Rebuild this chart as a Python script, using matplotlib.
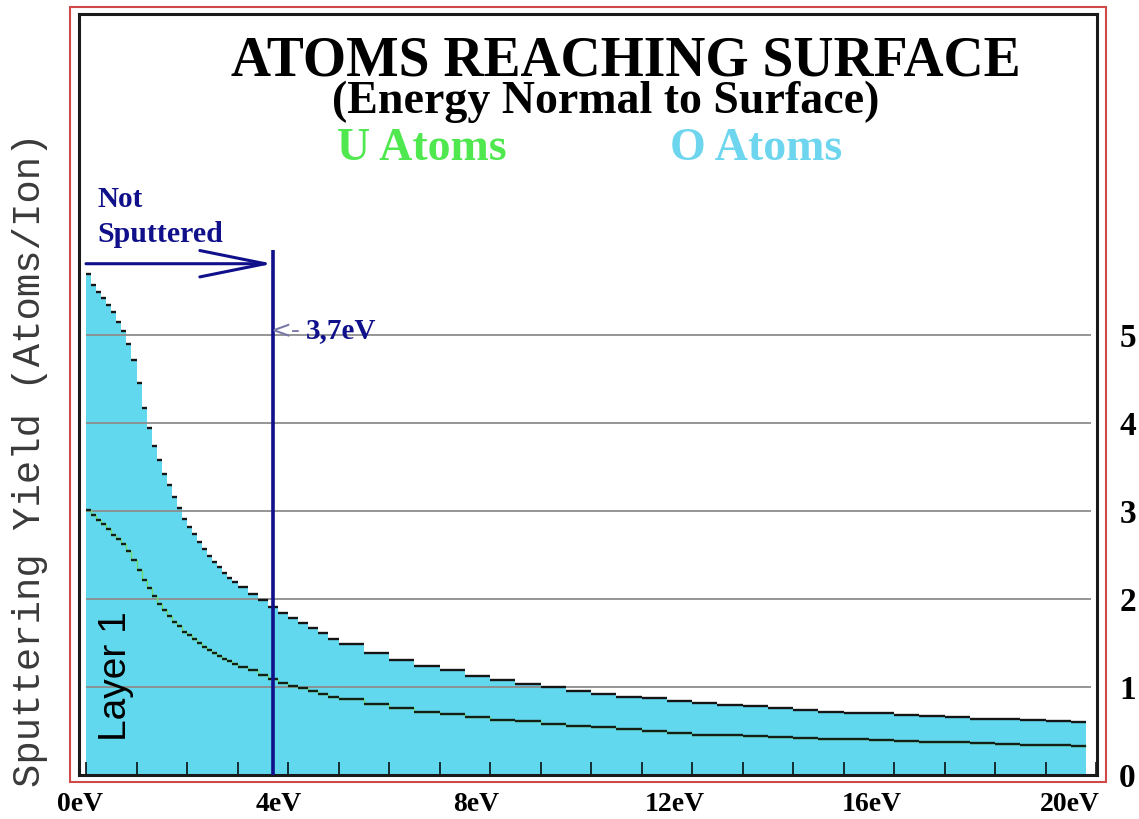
import numpy as np
import matplotlib.pyplot as plt
from matplotlib.patches import Rectangle

# histogram bins in eV (left edges), last bin closes at 19.8 eV
bin_left = np.round(np.concatenate([np.arange(0, 3.05, 0.1),
                                    np.arange(3.2, 4.85, 0.2),
                                    np.arange(5.0, 19.55, 0.5)]), 2)
bin_edges = np.append(bin_left, 19.8)

# total atoms (U + O) reaching surface, atoms/ion
total_yield = [5.69, 5.57, 5.49, 5.42, 5.34, 5.26, 5.15, 5.04, 4.90, 4.72,
               4.45, 4.17, 3.94, 3.74, 3.58, 3.42, 3.29, 3.16, 3.03, 2.91,
               2.82, 2.74, 2.65, 2.57, 2.49, 2.42, 2.36, 2.30, 2.24, 2.19,
               2.14,
               2.06, 1.99, 1.91, 1.84, 1.78, 1.73, 1.67, 1.61, 1.55,
               1.49, 1.39, 1.31, 1.24, 1.19, 1.13, 1.08, 1.03, 1.00, 0.96,
               0.92, 0.89, 0.87, 0.84, 0.82, 0.80, 0.78, 0.76, 0.74, 0.72,
               0.71, 0.70, 0.68, 0.67, 0.66, 0.64, 0.64, 0.63, 0.61, 0.60]

# U atoms only
u_yield = [3.01, 2.96, 2.90, 2.85, 2.79, 2.73, 2.68, 2.62, 2.54, 2.44,
           2.33, 2.22, 2.12, 2.03, 1.94, 1.88, 1.81, 1.74, 1.69, 1.63,
           1.59, 1.54, 1.50, 1.46, 1.42, 1.39, 1.35, 1.32, 1.29, 1.26,
           1.23,
           1.19, 1.14, 1.09, 1.05, 1.01, 0.99, 0.96, 0.92, 0.89,
           0.86, 0.81, 0.76, 0.72, 0.69, 0.66, 0.63, 0.61, 0.58, 0.56,
           0.54, 0.52, 0.50, 0.48, 0.46, 0.45, 0.44, 0.43, 0.42, 0.41,
           0.41, 0.40, 0.39, 0.38, 0.37, 0.36, 0.35, 0.34, 0.34, 0.33]

y_ticks = [0, 1, 2, 3, 4, 5]
x_label_ticks = [0, 4, 8, 12, 16, 20]
surface_binding = 3.7   # eV
arrow_level = 5.81
line_top = 5.97

W, H = 1139, 819
CYAN = '#62d8ef'
NAVY = '#10108a'
SERIF = 'Liberation Serif'


def fx(x):
    return x / W


def fy(y):
    return 1 - y / H


fig = plt.figure(figsize=(W / 100, H / 100), dpi=100)
fig.patch.set_facecolor('white')

# axes box = inner black frame
ax = fig.add_axes([fx(79), fy(775), (1097 - 79) / W, (775 - 14) / H])
ax.set_xlim(-(86 - 79) / 50.5, 20 + 1 / 50.5)
ax.set_ylim(0, (775 - 14) / 88.0)

ax.stairs(total_yield, bin_edges, fill=True, color=CYAN, zorder=1)
ax.hlines(y_ticks[1:], 0, 19.9, color='#8c8c8c', lw=1.3, zorder=2)
ax.stairs(u_yield, bin_edges, baseline=None, color='#6fdc6f', lw=1.0, zorder=3)
ax.hlines(total_yield, bin_edges[:-1], bin_edges[1:], color='#151515', lw=1.7, zorder=4)
ax.hlines(u_yield, bin_edges[:-1], bin_edges[1:], color='#152015', lw=1.7, zorder=4)

# threshold line + arrow
ax.vlines(surface_binding, 0, line_top, color=NAVY, lw=2.6, zorder=5)
ax.annotate('', xy=(surface_binding, arrow_level), xytext=(0, arrow_level),
            arrowprops=dict(arrowstyle='->,head_length=4.7,head_width=0.95',
                            color=NAVY, lw=2.2, mutation_scale=10,
                            shrinkA=0, shrinkB=0), zorder=5)

for s in ax.spines.values():
    s.set_linewidth(2.2)
    s.set_color('#1a1a1a')

ax.set_xticks(np.arange(0, 21, 1))
ax.tick_params(axis='x', direction='in', length=9.5, width=1.1, labelbottom=False)
ax.yaxis.tick_right()
ax.set_yticks(y_ticks)
ax.set_yticklabels([str(v) for v in y_ticks], fontsize=24, fontweight='bold', family=SERIF)
ax.tick_params(axis='y', length=0, pad=16)

# x labels are drawn slightly off the tick positions in the original
sec = ax.secondary_xaxis('bottom', functions=(lambda x: (x + 0.11) / 0.98,
                                               lambda s: 0.98 * s - 0.11))
sec.set_xticks(x_label_ticks)
sec.set_xticklabels([f'{v}eV' for v in x_label_ticks], fontsize=20,
                    fontweight='bold', family=SERIF)
sec.tick_params(length=0, pad=12)
sec.spines['bottom'].set_visible(False)

# outer red frame
fig.patches.append(Rectangle((fx(70), fy(782)), (1106 - 70) / W, (782 - 7) / H,
                             transform=fig.transFigure, fill=False,
                             edgecolor='#d04848', lw=1.5))

fig.text(fx(626), fy(75), 'ATOMS REACHING SURFACE', ha='center', va='baseline',
         fontsize=40, fontweight='bold', family=SERIF)
fig.text(fx(606), fy(113), '(Energy Normal to Surface)', ha='center', va='baseline',
         fontsize=33, fontweight='bold', family=SERIF)
fig.text(fx(422), fy(160), 'U Atoms', ha='center', va='baseline',
         fontsize=33, fontweight='bold', family=SERIF, color='#4fe84f')
fig.text(fx(756), fy(160), 'O Atoms', ha='center', va='baseline',
         fontsize=33, fontweight='bold', family=SERIF, color='#6dd6ee')

fig.text(fx(97), fy(207), 'Not', ha='left', va='baseline',
         fontsize=21, fontweight='bold', family=SERIF, color=NAVY)
fig.text(fx(97), fy(242), 'Sputtered', ha='left', va='baseline',
         fontsize=21.5, fontweight='bold', family=SERIF, color=NAVY)
fig.text(fx(270), fy(338), '<-', ha='left', va='baseline',
         fontsize=18, family='DejaVu Sans', color='#7878a8')
fig.text(fx(306), fy(338), '3,7eV', ha='left', va='baseline',
         fontsize=21, fontweight='bold', family=SERIF, color=NAVY)

fig.text(fx(30), fy(460), 'Sputtering Yield (Atoms/Ion)', rotation=90,
         ha='center', va='center', fontsize=28, family='Liberation Mono',
         color='#3a3a3a')
fig.text(fx(116), fy(676), 'Layer 1', rotation=90, ha='center', va='center',
         fontsize=28, family='Liberation Sans', color='black')

fig.savefig('out.png', dpi=100)
